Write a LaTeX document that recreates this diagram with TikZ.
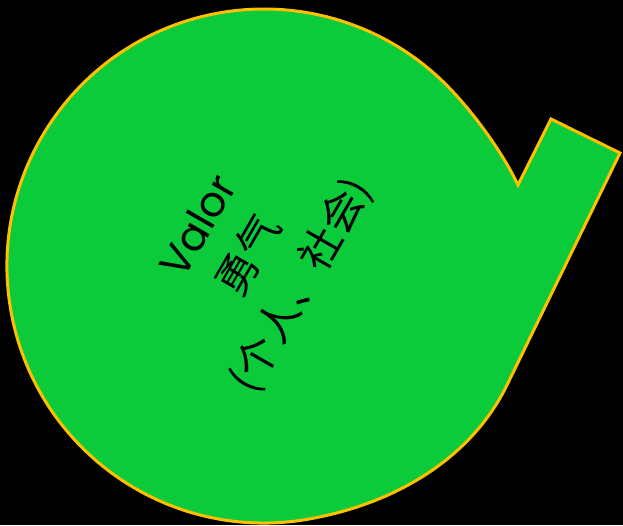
\documentclass[tikz,border=0pt]{standalone}
\usepackage{fontspec}
\usetikzlibrary{positioning}
\newfontfamily\valorfont{Poppins}
\newfontfamily\cjkfont{Noto Sans CJK SC}
\definecolor{bubblegreen}{HTML}{0BCB3B}
\definecolor{bubblerim}{HTML}{FFC000}

\begin{document}
\begin{tikzpicture}[x=1pt, y=1pt,
    bubble/.style={fill=bubblegreen, draw=bubblerim, line width=3pt, line join=miter},
    wordnode/.style={rotate=60, align=center, text=black, inner sep=0pt, font=\fontsize{42}{59}\selectfont}
  ]
  \fill[black] (0,0) rectangle (623,525);
  \useasboundingbox (0,0) rectangle (623,525);
  % the bubble and its tail
  \coordinate (notch) at (518,340);
  \coordinate (tipl) at (551,406);
  \coordinate (tipr) at (620,372);
  \coordinate (bend) at (507,140);
  \draw[bubble] (notch) -- (tipl) -- (tipr) -- (bend)
    .. controls (472,68) and (397.2,21.6) .. (308.6,5.9)
    arc[start angle=-80, end angle=-315, radius=257]
    .. controls (474,412.4) and (503,371.6) .. (notch) -- cycle;
  % text
  \node[wordnode] (valor) at (252,268) {{\valorfont Valor}\\{\cjkfont 勇气}\\{\cjkfont (个人、社会)}};
\end{tikzpicture}
\end{document}
